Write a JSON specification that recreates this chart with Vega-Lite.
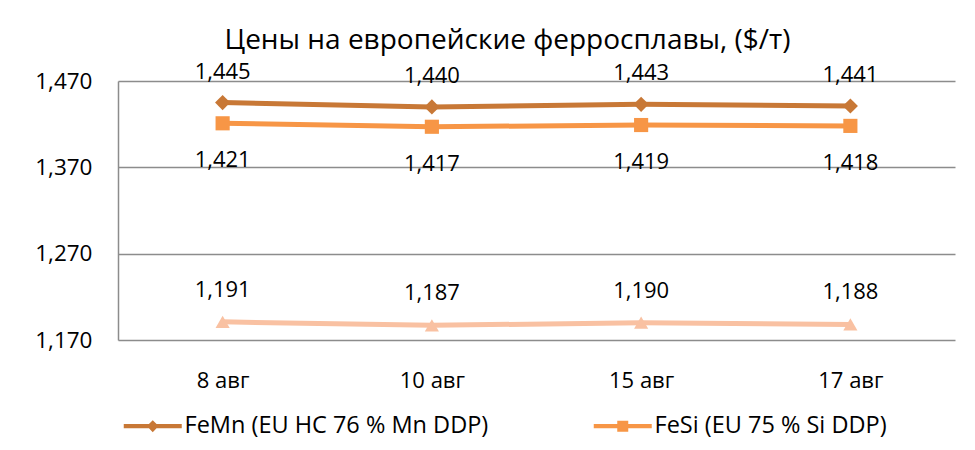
{
  "$schema": "https://vega.github.io/schema/vega-lite/v6.json",
  "width": 837,
  "height": 259,
  "autosize": {"type": "none"},
  "padding": {"left": 118, "top": 81, "right": 20, "bottom": 110},
  "background": "white",
  "title": {
    "text": "Цены на европейские ферросплавы, ($/т)",
    "font": "Open Sans",
    "fontSize": 28,
    "fontWeight": "normal",
    "color": "#000000",
    "anchor": "middle",
    "dx": -29,
    "offset": 6
  },
  "config": {
    "view": {"stroke": null},
    "font": "Open Sans",
    "axis": {"labelFont": "Open Sans", "labelColor": "#000000"},
    "legend": {"labelFont": "Open Sans"}
  },
  "data": {
    "values": [
      {"date": "8 авг", "series": "FeMn (EU HC 76 % Mn DDP)", "value": 1445},
      {"date": "10 авг", "series": "FeMn (EU HC 76 % Mn DDP)", "value": 1440},
      {"date": "15 авг", "series": "FeMn (EU HC 76 % Mn DDP)", "value": 1443},
      {"date": "17 авг", "series": "FeMn (EU HC 76 % Mn DDP)", "value": 1441},
      {"date": "8 авг", "series": "FeSi (EU 75 % Si DDP)", "value": 1421},
      {"date": "10 авг", "series": "FeSi (EU 75 % Si DDP)", "value": 1417},
      {"date": "15 авг", "series": "FeSi (EU 75 % Si DDP)", "value": 1419},
      {"date": "17 авг", "series": "FeSi (EU 75 % Si DDP)", "value": 1418},
      {"date": "8 авг", "series": "SiMn (EU 65 % Mn DDP)", "value": 1191},
      {"date": "10 авг", "series": "SiMn (EU 65 % Mn DDP)", "value": 1187},
      {"date": "15 авг", "series": "SiMn (EU 65 % Mn DDP)", "value": 1190},
      {"date": "17 авг", "series": "SiMn (EU 65 % Mn DDP)", "value": 1188}
    ]
  },
  "encoding": {
    "x": {
      "field": "date",
      "type": "ordinal",
      "sort": ["8 авг", "10 авг", "15 авг", "17 авг"],
      "scale": {"type": "point", "padding": 0.5},
      "axis": {
        "title": null,
        "labelAngle": 0,
        "domain": false,
        "ticks": false,
        "grid": false,
        "labelFontSize": 22,
        "labelPadding": 30
      }
    },
    "y": {
      "field": "value",
      "type": "quantitative",
      "scale": {"domain": [1170, 1470], "nice": false, "zero": false},
      "axis": {
        "title": null,
        "values": [1170, 1270, 1370, 1470],
        "format": ",d",
        "domain": true,
        "domainColor": "#8c8c8c",
        "domainWidth": 1.5,
        "ticks": false,
        "grid": true,
        "gridColor": "#8c8c8c",
        "gridWidth": 1.5,
        "labelFontSize": 22.5,
        "labelPadding": 26
      }
    }
  },
  "layer": [
    {
      "transform": [{"filter": "datum.series === 'FeMn (EU HC 76 % Mn DDP)'"}],
      "mark": {"type": "line", "strokeWidth": 5, "color": "#C87836"}
    },
    {
      "transform": [{"filter": "datum.series === 'FeSi (EU 75 % Si DDP)'"}],
      "mark": {"type": "line", "strokeWidth": 5, "color": "#F79646"}
    },
    {
      "transform": [{"filter": "datum.series === 'SiMn (EU 65 % Mn DDP)'"}],
      "mark": {"type": "line", "strokeWidth": 5, "color": "#F9C1A2"}
    },
    {
      "transform": [{"filter": "datum.series === 'FeMn (EU HC 76 % Mn DDP)'"}],
      "mark": {"type": "point", "shape": "diamond", "filled": true, "opacity": 1, "size": 230, "color": "#C87836"}
    },
    {
      "transform": [{"filter": "datum.series === 'FeSi (EU 75 % Si DDP)'"}],
      "mark": {"type": "point", "shape": "square", "filled": true, "opacity": 1, "size": 200, "color": "#F79646"}
    },
    {
      "transform": [{"filter": "datum.series === 'SiMn (EU 65 % Mn DDP)'"}],
      "mark": {"type": "point", "shape": "triangle-up", "filled": true, "opacity": 1, "size": 200, "color": "#F9C1A2"}
    },
    {
      "transform": [{"filter": "datum.series === 'FeMn (EU HC 76 % Mn DDP)'"}],
      "mark": {"type": "text", "dy": -31, "fontSize": 22, "color": "#000000"},
      "encoding": {"text": {"field": "value", "type": "quantitative", "format": ","}}
    },
    {
      "transform": [{"filter": "datum.series === 'FeSi (EU 75 % Si DDP)'"}],
      "mark": {"type": "text", "dy": 37, "fontSize": 22, "color": "#000000"},
      "encoding": {"text": {"field": "value", "type": "quantitative", "format": ","}}
    },
    {
      "transform": [{"filter": "datum.series === 'SiMn (EU 65 % Mn DDP)'"}],
      "mark": {"type": "text", "dy": -32, "fontSize": 22, "color": "#000000"},
      "encoding": {"text": {"field": "value", "type": "quantitative", "format": ","}}
    },
    {
      "mark": {"type": "point", "filled": true, "opacity": 0},
      "encoding": {
        "color": {
          "field": "series",
          "type": "nominal",
          "scale": {
            "domain": ["FeMn (EU HC 76 % Mn DDP)", "FeSi (EU 75 % Si DDP)", "SiMn (EU 65 % Mn DDP)"],
            "range": ["#C87836", "#F79646", "#F9C1A2"]
          },
          "legend": {
            "title": null,
            "orient": "none",
            "legendX": 23,
            "legendY": 333,
            "direction": "horizontal",
            "values": ["FeMn (EU HC 76 % Mn DDP)", "FeSi (EU 75 % Si DDP)"],
            "symbolSize": 400,
            "symbolStrokeWidth": 0,
            "symbolOpacity": 1,
            "labelFontSize": 23.5,
            "labelColor": "#000000",
            "labelOffset": 20,
            "columnPadding": 104,
            "padding": 0,
            "labelLimit": 1000
          }
        },
        "shape": {
          "field": "series",
          "type": "nominal",
          "scale": {
            "domain": ["FeMn (EU HC 76 % Mn DDP)", "FeSi (EU 75 % Si DDP)", "SiMn (EU 65 % Mn DDP)"],
            "range": [
              "M-2.9,-0.22H-0.38L0,-0.6L0.38,-0.22H2.9V0.22H0.38L0,0.6L-0.38,0.22H-2.9Z",
              "M-2.9,-0.22H-0.55V-0.55H0.55V-0.22H2.9V0.22H0.55V0.55H-0.55V0.22H-2.9Z",
              "M-2.9,-0.22H-0.2L0,-0.6L0.2,-0.22H2.9V0.22H0.5L0.6,0.5H-0.6L-0.5,0.22H-2.9Z"
            ]
          },
          "legend": {
            "title": null,
            "orient": "none",
            "legendX": 23,
            "legendY": 333,
            "direction": "horizontal",
            "values": ["FeMn (EU HC 76 % Mn DDP)", "FeSi (EU 75 % Si DDP)"],
            "symbolSize": 400,
            "symbolStrokeWidth": 0,
            "symbolOpacity": 1,
            "labelFontSize": 23.5,
            "labelColor": "#000000",
            "labelOffset": 20,
            "columnPadding": 104,
            "padding": 0,
            "labelLimit": 1000
          }
        }
      }
    }
  ]
}
